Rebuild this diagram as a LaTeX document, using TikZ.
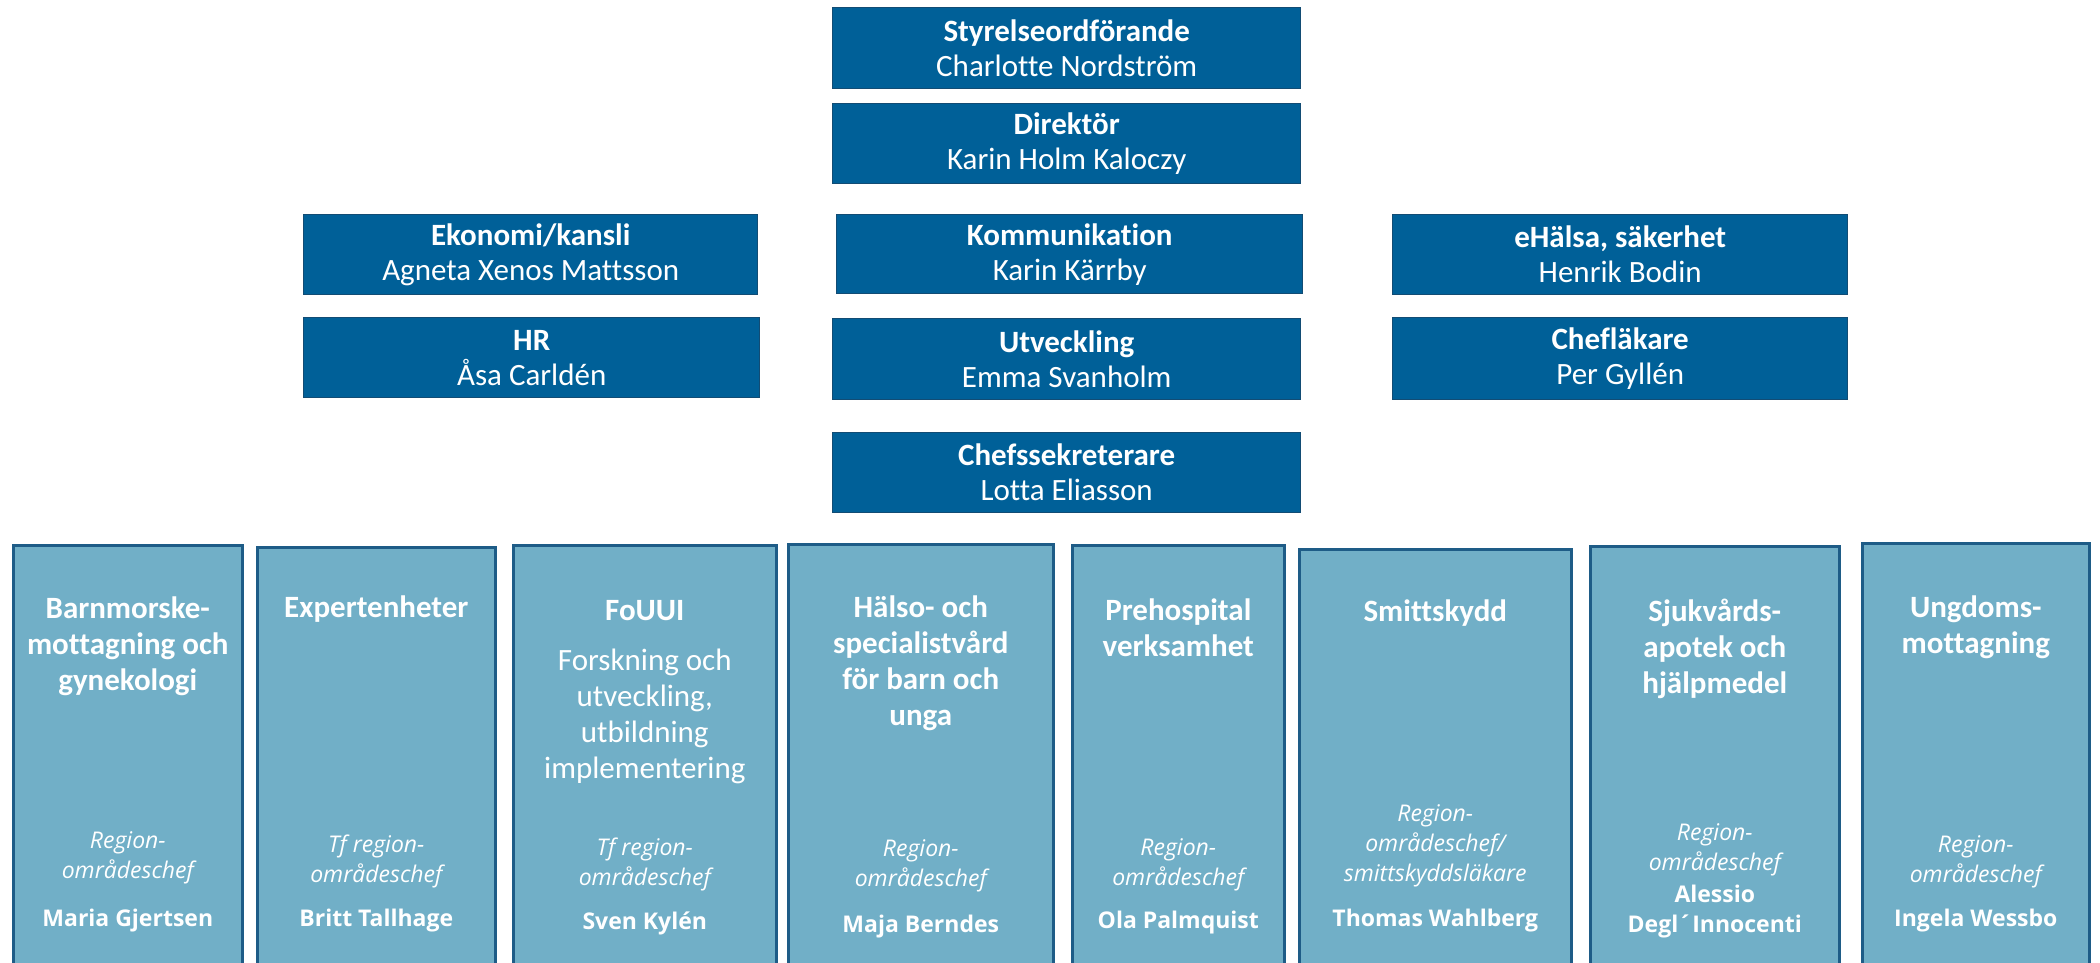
\documentclass[tikz,border=0pt]{standalone}
\usepackage{fontspec}
\setmainfont{Carlito}[Ligatures=CommonOff]
\newfontfamily\osans{Open Sans}
\definecolor{dkblue}{RGB}{0,96,152}
\definecolor{dkedge}{RGB}{18,76,116}
\definecolor{ltblue}{RGB}{113,175,199}
\definecolor{ltedge}{RGB}{30,92,135}
\begin{document}
\begin{tikzpicture}[x=0.5pt,y=-0.5pt,
  topbox/.style={draw=dkedge, line width=0.7pt, fill=dkblue, anchor=north west, inner sep=0pt,
    text=white, align=center, font=\fontsize{15.5}{17.5}\selectfont},
  lowbox/.style={draw=ltedge, line width=1.3pt, fill=ltblue, anchor=north west, inner sep=0pt},
  btitle/.style={text=white, align=center, inner sep=0pt, font=\fontsize{15.5}{18}\selectfont\bfseries},
  bbody/.style={text=white, align=center, inner sep=0pt, font=\fontsize{15.5}{18}\selectfont},
  brole/.style={text=white, align=center, inner sep=0pt, font=\osans\itshape\fontsize{11.5}{15}\selectfont},
  bname/.style={text=white, align=center, inner sep=0pt, font=\osans\bfseries\fontsize{11.5}{15}\selectfont}]
\useasboundingbox (0,0) rectangle (2100,963);

% top boxes
\node[topbox, minimum width=234pt, minimum height=40.5pt] (styr) at (832,7) {\textbf{Styrelseordförande}\\Charlotte Nordström};
\node[topbox, minimum width=234pt, minimum height=40pt] (dir) at (832,103) {\textbf{Direktör}\\Karin Holm Kaloczy};
\node[topbox, minimum width=227pt, minimum height=40pt] (eko) at (303,214) {\textbf{Ekonomi/kansli}\\Agneta Xenos Mattsson};
\node[topbox, minimum width=233pt, minimum height=39.5pt] (kom) at (836,214) {\textbf{Kommunikation}\\Karin Kärrby};
\node[topbox, minimum width=227.5pt, minimum height=40pt] (ehal) at (1392,214) {\textbf{eHälsa, säkerhet}\\Henrik Bodin};
\node[topbox, minimum width=228pt, minimum height=40pt] (hr) at (303,317) {\textbf{HR}\\Åsa Carldén};
\node[topbox, minimum width=234pt, minimum height=40.5pt] (utv) at (832,318) {\textbf{Utveckling}\\Emma Svanholm};
\node[topbox, minimum width=227.5pt, minimum height=41pt] (chl) at (1392,317) {\textbf{Chefläkare}\\Per Gyllén};
\node[topbox, minimum width=234pt, minimum height=40pt] (chs) at (832,432) {\textbf{Chefssekreterare}\\Lotta Eliasson};

% bottom boxes
\node[lowbox, minimum width=114.5pt, minimum height=223pt] (b1) at (12,544) {};
\node[lowbox, minimum width=119pt, minimum height=222pt] (b2) at (256,546) {};
\node[lowbox, minimum width=131.5pt, minimum height=223pt] (b3) at (512,544) {};
\node[lowbox, minimum width=132.5pt, minimum height=223.5pt] (b4) at (787,543) {};
\node[lowbox, minimum width=106pt, minimum height=223pt] (b5) at (1071,544) {};
\node[lowbox, minimum width=136pt, minimum height=221pt] (b6) at (1298,548) {};
\node[lowbox, minimum width=124.5pt, minimum height=222.5pt] (b7) at (1589,545) {};
\node[lowbox, minimum width=113.5pt, minimum height=224pt] (b8) at (1861,542) {};

% box 1
\node[btitle] (b1t) at (b1.north |- 0,646) {Barnmorske-\\mottagning och\\gynekologi};
\node[brole] (b1r) at (b1.north |- 0,858) {Region-\\områdeschef};
\node[bname] (b1n) at (b1.north |- 0,921) {Maria Gjertsen};
% box 2
\node[btitle] (b2t) at (b2.north |- 0,609) {Expertenheter};
\node[brole] (b2r) at (b2.north |- 0,861) {Tf region-\\områdeschef};
\node[bname] (b2n) at (b2.north |- 0,921) {Britt Tallhage};
% box 3
\node[btitle] (b3t) at (b3.north |- 0,611) {FoUUI};
\node[bbody] (b3b) at (b3.north |- 0,716) {Forskning och\\utveckling,\\utbildning\\implementering};
\node[brole] (b3r) at (b3.north |- 0,864) {Tf region-\\områdeschef};
\node[bname] (b3n) at (b3.north |- 0,923) {Sven Kylén};
% box 4
\node[btitle] (b4t) at (b4.north |- 0,663) {Hälso- och\\specialistvård\\för barn och\\unga};
\node[brole] (b4r) at (b4.north |- 0,866) {Region-\\områdeschef};
\node[bname] (b4n) at (b4.north |- 0,927) {Maja Berndes};
% box 5
\node[btitle] (b5t) at (b5.north |- 0,628) {Prehospital\\verksamhet};
\node[brole] (b5r) at (b5.north |- 0,865) {Region-\\områdeschef};
\node[bname] (b5n) at (b5.north |- 0,923) {Ola Palmquist};
% box 6
\node[btitle] (b6t) at (b6.north |- 0,613) {Smittskydd};
\node[brole] (b6r) at (b6.north |- 0,846) {Region-\\områdeschef/\\smittskyddsläkare};
\node[bname] (b6n) at (b6.north |- 0,921) {Thomas Wahlberg};
% box 7
\node[btitle] (b7t) at (b7.north |- 0,649) {Sjukvårds-\\apotek och\\hjälpmedel};
\node[brole] (b7r) at (b7.north |- 0,850) {Region-\\områdeschef};
\node[bname] (b7n) at (b7.north |- 0,912) {Alessio\\Degl´Innocenti};
% box 8
\node[btitle] (b8t) at (b8.north |- 0,627) {Ungdoms-\\mottagning};
\node[brole] (b8r) at (b8.north |- 0,862) {Region-\\områdeschef};
\node[bname] (b8n) at (b8.north |- 0,921) {Ingela Wessbo};
\end{tikzpicture}
\end{document}
